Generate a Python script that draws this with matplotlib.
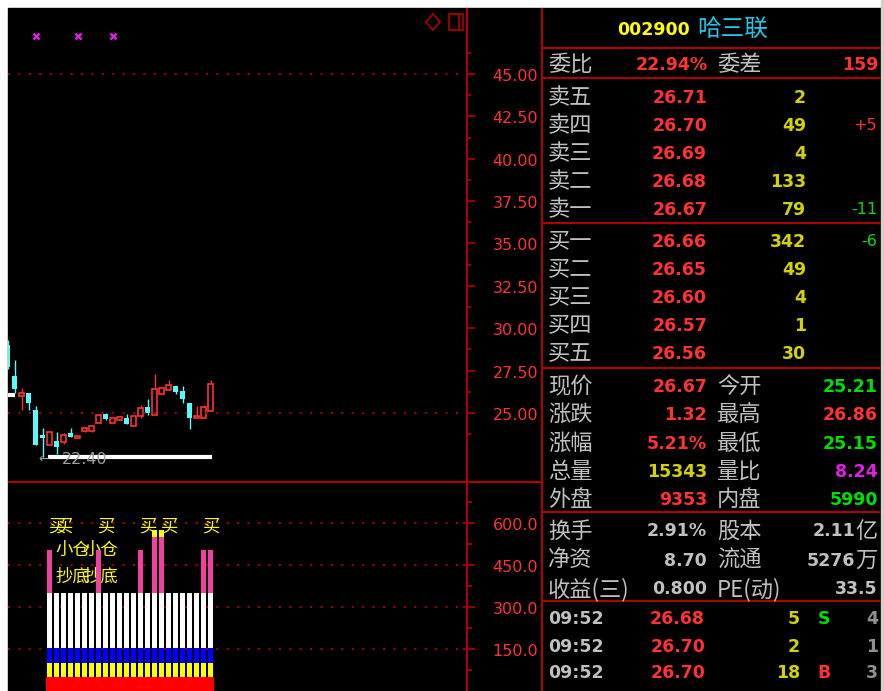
import matplotlib.pyplot as plt
from matplotlib.patches import Rectangle, Polygon
from matplotlib.transforms import offset_copy

W, H = 884, 691

# ---- candles (index 0 is cut off at the left edge) ----
opens = [29.0, 27.2, 26.0, 26.2, 25.2, 23.7, 23.1, 23.35, 23.3, 23.8,
         23.55, 23.94, 23.94, 24.41, 24.94, 24.41, 24.6, 24.71, 24.23, 24.82,
         25.35, 24.88, 26.12, 26.36, 26.59, 26.3, 25.59, 24.71, 24.71, 25.12]
closes = [27.7, 26.4, 26.2, 25.6, 23.1, 23.5, 23.9, 23.0, 23.7, 23.6,
          23.62, 24.12, 24.23, 24.88, 24.65, 24.71, 24.76, 24.35, 24.82, 25.29,
          25.0, 26.42, 26.47, 26.65, 26.24, 25.83, 24.71, 24.82, 25.35, 26.71]
highs = [29.3, 28.1, 26.5, 26.2, 25.4, 24.1, 23.9, 23.9, 23.8, 24.1,
         23.65, 24.15, 24.3, 24.95, 25.0, 24.71, 24.85, 24.94, 24.82, 25.5,
         25.83, 27.3, 26.5, 26.95, 26.59, 26.6, 25.59, 25.4, 25.45, 26.95]
lows = [27.6, 26.2, 25.2, 25.2, 23.1, 22.4, 23.1, 22.6, 23.2, 23.6,
        23.5, 23.9, 23.9, 24.41, 24.6, 24.41, 24.6, 24.35, 24.23, 24.7,
        24.88, 24.88, 26.12, 26.36, 26.12, 25.6, 24.06, 24.71, 24.71, 25.12]
low_value = 22.40
low_index = 5
left_mark = 26.06
x_marks = [4, 10, 15]
x_mark_price = 47.24

price_ticks = [25.0, 27.5, 30.0, 32.5, 35.0, 37.5, 40.0, 42.5, 45.0]
price_grid = [25.0, 45.0]

# ---- indicator bars in the lower panel ----
bar_idx = list(range(6, 30))
red_top = 50
yellow_top = 100
blue_top = 154
white_top = 350
pink_idx = [6, 13, 19, 21, 22, 28, 29]
pink_top = [504, 504, 504, 550, 550, 504, 504]
tip_idx = [21, 22]
tip_top = 575
vol_ticks = [150.0, 300.0, 450.0, 600.0]
buy_idx = [6, 7, 13, 19, 22, 28]
buy_level = 586
small_labels = [(7, '小仓'), (11, '小仓')]
small_level = 503
bottom_labels = [(7, '抄底'), (11, '抄底')]
bottom_level = 407

# ---- quote panel ----
code, name = '002900', '哈三联'
wb = ('委比', '22.94%', '委差', '159')
sell_labels = ['卖五', '卖四', '卖三', '卖二', '卖一']
sell_prices = ['26.71', '26.70', '26.69', '26.68', '26.67']
sell_vols = ['2', '49', '4', '133', '79']
sell_chg = ['', '+5', '', '', '-11']
buy_labels = ['买一', '买二', '买三', '买四', '买五']
buy_prices = ['26.66', '26.65', '26.60', '26.57', '26.56']
buy_vols = ['342', '49', '4', '1', '30']
buy_chg = ['-6', '', '', '', '']
quote_left = ['现价', '涨跌', '涨幅', '总量', '外盘']
quote_left_val = ['26.67', '1.32', '5.21%', '15343', '9353']
quote_right = ['今开', '最高', '最低', '量比', '内盘']
quote_right_val = ['25.21', '26.86', '25.15', '8.24', '5990']
info_left = ['换手', '净资', '收益(三)']
info_left_val = ['2.91%', '8.70', '0.800']
info_right = ['股本', '流通', 'PE(动)']
info_right_val = [('2.11', '亿'), ('5276', '万'), ('33.5', '')]
tick_times = ['09:52', '09:52', '09:52', '09:52']
tick_prices = ['26.68', '26.70', '26.70', '26.68']
tick_vols = ['5', '2', '18', '1']
tick_bs = ['S', '', 'B', 'S']
tick_num = ['4', '1', '3', '1']

GREY = '#c0c0c0'
RED = '#ff3232'
YEL = '#d2d200'
GRN = '#00e000'
MAG = '#e020e0'
CYAN_T = '#20c8e8'
LINE = '#b00000'
DOT = '#a00000'
UP = '#ff3232'
DOWN = '#54fcfc'
CN = ['Noto Sans CJK SC', 'DejaVu Sans']


def frac(x0, y0, x1, y1):
    return [x0 / W, 1 - y1 / H, (x1 - x0) / W, (y1 - y0) / H]


fig = plt.figure(figsize=(W / 100, H / 100), dpi=100)
fig.patch.set_facecolor('white')

ov = fig.add_axes([0, 0, 1, 1])
ov.set_xlim(0, W)
ov.set_ylim(H, 0)
ov.axis('off')
ov.add_patch(Rectangle((8, 8), 873, H - 8, color='black', zorder=0))
ov.add_patch(Rectangle((881, 0), 3, H, color='#d4d0c8', zorder=0))

# frame lines
ov.vlines([467, 542], 8, H, color=LINE, lw=1.5)
ov.hlines(482, 8, 542, color=LINE, lw=1.5)
ov.hlines([48, 78, 223, 368, 512, 601], 542, 881, color=LINE, lw=1.5)

# small icons top right of chart
ov.add_patch(Polygon([(433, 14), (440, 22), (433, 30), (426, 22)], closed=True,
                     fill=False, ec=LINE, lw=1.2))
ov.add_patch(Rectangle((449, 14), 14, 16, fill=False, ec=LINE, lw=1.2))
ov.vlines(459, 14, 30, color=LINE, lw=1.2)

xlim = (0.5 / 7, 459.5 / 7)

# ---- price panel ----
pa = fig.add_axes(frac(8, 8, 467, 482))
pa.set_facecolor('none')
pa.axis('off')
pa.set_xlim(*xlim)
pa.set_ylim(20.93, 48.89)
for p in price_grid:
    pa.axhline(p, color=DOT, lw=1.5, ls=(0, (1, 4)))

for i, (o, c, hi, lo) in enumerate(zip(opens, closes, highs, lows)):
    top, bot = max(o, c), min(o, c)
    if c >= o:
        pa.vlines(i, top, hi, color=UP, lw=1)
        pa.vlines(i, lo, bot, color=UP, lw=1)
        pa.bar(i, max(top - bot, 0.03), bottom=bot, width=0.7,
               facecolor='black', edgecolor=UP, lw=1.2)
    else:
        pa.vlines(i, lo, hi, color=DOWN, lw=1)
        pa.bar(i, top - bot, bottom=bot, width=0.7, color=DOWN, lw=0)

pa.hlines(low_value, low_index + 0.8, len(opens) - 0.8, color='white', lw=3)
pa.hlines(left_mark, 0, 1.0, color='white', lw=3)
low_tr = offset_copy(pa.transData, fig=fig, y=-2, units='dots')
pa.text(low_index + 0.2, low_value, '\u2190', color='#a0a0a0', fontsize=9,
        ha='center', va='center', transform=low_tr)
pa.text(low_index + 2.8, low_value, f'{low_value:.2f}', color='#a0a0a0',
        fontsize=11.5, ha='left', va='center', transform=low_tr)
pa.plot(x_marks, [x_mark_price] * len(x_marks), ls='none', marker='x',
        color=MAG, ms=5, mew=1.8)

# price axis
px = fig.add_axes(frac(467, 8, 542, 482))
px.set_facecolor('none')
px.axis('off')
px.set_xlim(467, 542)
px.set_ylim(20.93, 48.89)
px.hlines(price_ticks, 467, 475, color=LINE, lw=1.2)
px.hlines([p + 1.25 for p in price_ticks], 467, 471, color=LINE, lw=1.2)
px.hlines([price_ticks[0] - 1.25], 467, 471, color=LINE, lw=1.2)
px_tr = offset_copy(px.transData, fig=fig, y=-2.5, units='dots')
for p in price_ticks:
    px.text(538, p, f'{p:.2f}', color=RED, fontsize=11.5, ha='right',
            va='center', transform=px_tr)

# ---- indicator panel ----
va_ = fig.add_axes(frac(8, 482, 467, 691))
va_.set_facecolor('none')
va_.axis('off')
va_.set_xlim(*xlim)
va_.set_ylim(0, 746.4)
for v in vol_ticks:
    va_.axhline(v, color=DOT, lw=1.5, ls=(0, (1, 4)), zorder=0)

n = len(bar_idx)
va_.fill_between([bar_idx[0] - 0.5, bar_idx[-1] + 0.5], 0, red_top,
                 color='#ff0000', lw=0, zorder=2)
va_.bar(bar_idx, [yellow_top - red_top] * n, bottom=red_top, width=0.68,
        color='#ffff00', lw=0, zorder=2)
va_.bar(bar_idx, [blue_top - yellow_top] * n, bottom=yellow_top, width=0.68,
        color='#0000ff', lw=0, zorder=2)
va_.bar(bar_idx, [white_top - blue_top] * n, bottom=blue_top, width=0.68,
        color='white', lw=0, zorder=2)
va_.bar(pink_idx, [t - white_top for t in pink_top], bottom=white_top,
        width=0.68, color='#f040a0', lw=0, zorder=2)
va_.bar(tip_idx, [tip_top - 550] * len(tip_idx), bottom=550, width=0.68,
        color='#ffff00', lw=0, zorder=2)

for i in buy_idx:
    va_.text(i - 0.25, buy_level, '买', color='#ffff00', fontsize=12.5,
             family=CN, ha='left', va='center', zorder=1)
for i, s in small_labels:
    va_.text(i - 0.1, small_level, s, color='#ffff00', fontsize=12.5,
             family=CN, ha='left', va='center', zorder=1)
for i, s in bottom_labels:
    va_.text(i - 0.1, bottom_level, s, color='#ffff00', fontsize=12.5,
             family=CN, ha='left', va='center', zorder=1)

vx = fig.add_axes(frac(467, 482, 542, 691))
vx.set_facecolor('none')
vx.axis('off')
vx.set_xlim(467, 542)
vx.set_ylim(0, 746.4)
vx.hlines(vol_ticks, 463, 475, color=LINE, lw=1.2, clip_on=False)
vx.hlines([v + 75 for v in vol_ticks] + [75], 467, 472, color=LINE, lw=1.2)
vx_tr = offset_copy(vx.transData, fig=fig, y=-2.5, units='dots')
for v in vol_ticks:
    vx.text(538, v, f'{v:.1f}', color=RED, fontsize=11.5, ha='right',
            va='center', transform=vx_tr)


# ---- quote panel text ----
def cn(x, y, s, color=GREY, ha='left', size=16):
    ov.text(x, y + 1.5, s, color=color, fontsize=size, family=CN, ha=ha,
            va='center')


def num(x, y, s, color, ha='right', size=12.5):
    ov.text(x, y + 1.5, s, color=color, fontsize=size, fontweight='bold',
            ha=ha, va='center')


num(690, 28, code, '#ffff00')
cn(697, 28, name, CYAN_T, size=17)

cn(548, 63, wb[0])
num(708, 63, wb[1], RED)
cn(717, 63, wb[2])
num(878, 63, wb[3], RED)

for k, y in enumerate([96, 124, 152, 180, 208]):
    cn(548, y, sell_labels[k])
    num(707, y, sell_prices[k], RED)
    num(806, y, sell_vols[k], YEL)
    if sell_chg[k]:
        c = RED if sell_chg[k].startswith('+') else GRN
        ov.text(877, y + 1.5, sell_chg[k], color=c, fontsize=11.5, ha='right',
                va='center')

for k, y in enumerate([240, 268, 296, 324, 352]):
    cn(548, y, buy_labels[k])
    num(707, y, buy_prices[k], RED)
    num(806, y, buy_vols[k], YEL)
    if buy_chg[k]:
        c = RED if buy_chg[k].startswith('+') else GRN
        ov.text(877, y + 1.5, buy_chg[k], color=c, fontsize=11.5, ha='right',
                va='center')

left_colors = [RED, RED, RED, YEL, RED]
right_colors = [GRN, RED, GRN, MAG, GRN]
for k, y in enumerate([385, 413, 442, 470, 498]):
    cn(548, y, quote_left[k])
    num(707, y, quote_left_val[k], left_colors[k])
    cn(717, y, quote_right[k])
    num(878, y, quote_right_val[k], right_colors[k])

for k, y in enumerate([530, 559, 588]):
    cn(548, y, info_left[k])
    num(707, y, info_left_val[k], GREY)
    cn(717, y, info_right[k])
    v, unit = info_right_val[k]
    if unit:
        num(855, y, v, GREY)
        cn(878, y, unit, ha='right')
    else:
        num(878, y, v, GREY)

for k, y in enumerate([617, 645, 672, 700]):
    num(548, y, tick_times[k], GREY, ha='left')
    num(705, y, tick_prices[k], RED)
    num(800, y, tick_vols[k], YEL)
    if tick_bs[k]:
        num(824, y, tick_bs[k], GRN if tick_bs[k] == 'S' else RED, ha='center')
    num(878, y, tick_num[k], '#909090')

fig.savefig('out.png', dpi=100, facecolor=fig.get_facecolor())
